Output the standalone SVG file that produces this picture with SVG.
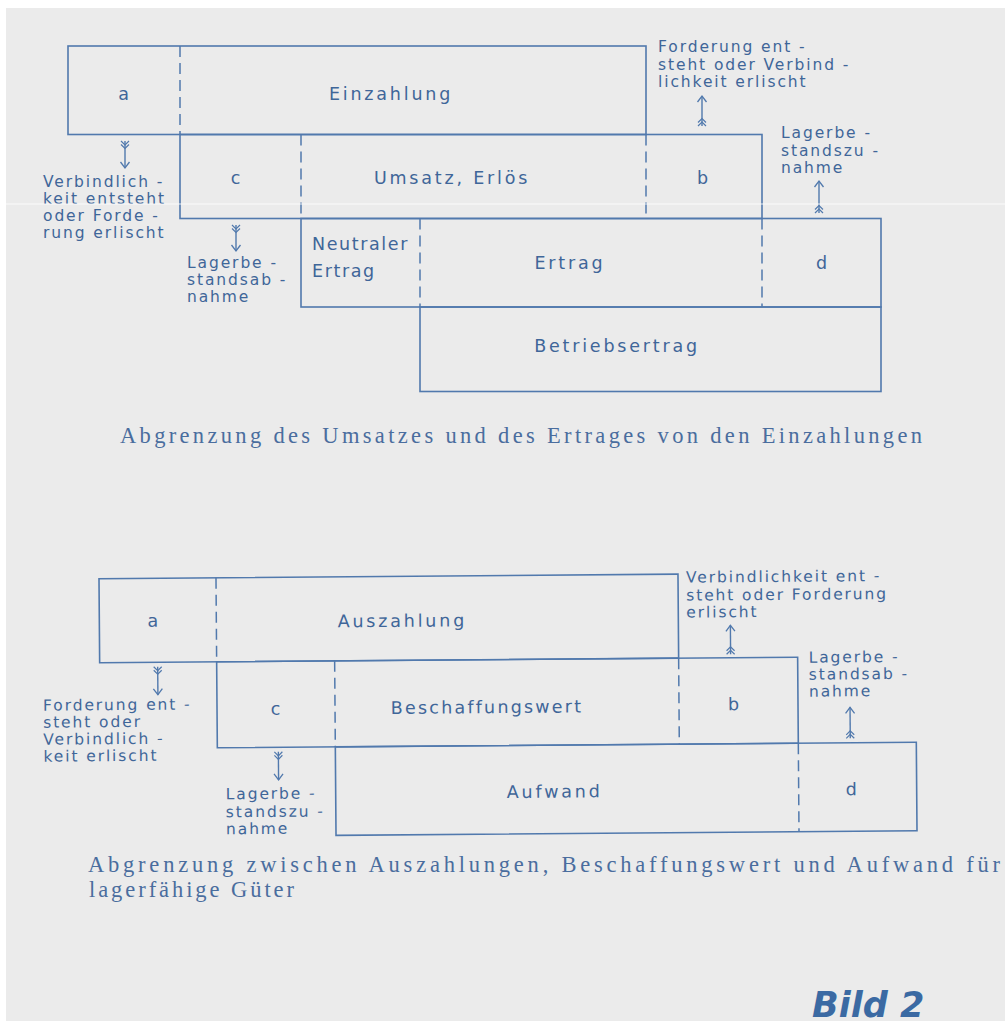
<svg xmlns="http://www.w3.org/2000/svg" width="1005" height="1027" viewBox="0 0 1005 1027">
  <defs>
    <style>
      .box { fill: none; stroke: #5179ad; stroke-width: 1.6; }
      .dash { fill: none; stroke: #5179ad; stroke-width: 1.5; stroke-dasharray: 11 6; }
      .lbl { font-family: "DejaVu Sans", "Liberation Sans", sans-serif; font-size: 17.5px; letter-spacing: 2.8px; fill: #3f6699; text-anchor: middle; }
      .ann { font-family: "DejaVu Sans", "Liberation Sans", sans-serif; font-size: 15.5px; letter-spacing: 1.9px; fill: #3f6699; }
      .cap { font-family: "Liberation Serif", "DejaVu Serif", serif; font-size: 22.5px; fill: #4a6d9e; }
      .arr { fill: none; stroke: #5179ad; stroke-width: 1.4; marker-start: url(#fletch); marker-end: url(#head); }
    </style>
    <marker id="head" markerUnits="userSpaceOnUse" viewBox="-8 -6 10 12" refX="0" refY="0" markerWidth="10" markerHeight="12" orient="auto">
      <path d="M-6,-4.5 L0,0 L-6,4.5" fill="none" stroke="#5179ad" stroke-width="1.3"/>
    </marker>
    <marker id="fletch" markerUnits="userSpaceOnUse" viewBox="-2 -6 12 12" refX="0" refY="0" markerWidth="12" markerHeight="12" orient="auto">
      <path d="M0,-4 L4,0 L0,4 M3.5,-4 L7.5,0 L3.5,4" fill="none" stroke="#5179ad" stroke-width="1.2"/>
    </marker>
  </defs>

  <rect x="0" y="0" width="1005" height="1027" fill="#ffffff"/>
  <rect x="6" y="8" width="999" height="1013" fill="#ebebeb"/>

  <!-- Upper diagram -->
  <g id="top-diagram">
    <g id="t-einzahlung">
      <rect class="box" x="68" y="46" width="578" height="88.5"/>
      <line class="dash" x1="180" y1="46" x2="180" y2="134.5"/>
      <text class="lbl" x="125" y="100">a</text>
      <text class="lbl" x="391" y="100">Einzahlung</text>
    </g>
    <g id="t-umsatz">
      <rect class="box" x="180" y="134.5" width="582" height="84"/>
      <line class="dash" x1="301" y1="134.5" x2="301" y2="218.5"/>
      <line class="dash" x1="646" y1="134.5" x2="646" y2="218.5"/>
      <text class="lbl" x="237" y="184">c</text>
      <text class="lbl" x="452" y="184">Umsatz, Erlös</text>
      <text class="lbl" x="704" y="184">b</text>
    </g>
    <g id="t-ertrag">
      <rect class="box" x="301" y="218.5" width="580" height="88.5"/>
      <line class="dash" x1="420" y1="218.5" x2="420" y2="307"/>
      <line class="dash" x1="762" y1="218.5" x2="762" y2="307"/>
      <text class="lbl" x="312" y="250" style="text-anchor:start;letter-spacing:1.6px">Neutraler</text>
      <text class="lbl" x="312" y="277" style="text-anchor:start;letter-spacing:1.6px">Ertrag</text>
      <text class="lbl" x="570" y="269">Ertrag</text>
      <text class="lbl" x="823" y="269">d</text>
    </g>
    <g id="t-betriebsertrag">
      <rect class="box" x="420" y="307" width="461" height="84.5"/>
      <text class="lbl" x="617" y="352">Betriebsertrag</text>
    </g>
    <g id="t-annotations">
      <text class="ann" x="43" y="187">Verbindlich -</text>
      <text class="ann" x="43" y="204">keit entsteht</text>
      <text class="ann" x="43" y="221">oder Forde -</text>
      <text class="ann" x="43" y="238">rung erlischt</text>
      <text class="ann" x="187" y="268">Lagerbe -</text>
      <text class="ann" x="187" y="285">standsab -</text>
      <text class="ann" x="187" y="302">nahme</text>
      <text class="ann" x="658" y="52">Forderung ent -</text>
      <text class="ann" x="658" y="70">steht oder Verbind -</text>
      <text class="ann" x="658" y="87">lichkeit erlischt</text>
      <text class="ann" x="781" y="138">Lagerbe -</text>
      <text class="ann" x="781" y="156">standszu -</text>
      <text class="ann" x="781" y="173">nahme</text>
    </g>
    <g id="t-connectors">
      <path class="arr" d="M125,141 L125,168"/>
      <path class="arr" d="M236,225 L236,251"/>
      <path class="arr" d="M702,126 L702,96"/>
      <path class="arr" d="M819,213 L819,181"/>
    </g>
  </g>
  <text class="cap" x="120" y="443" textLength="802" lengthAdjust="spacing">Abgrenzung des Umsatzes und des Ertrages von den Einzahlungen</text>

  <!-- Lower diagram -->
  <g id="bottom-diagram" transform="rotate(-0.45 508 705)">
    <g id="b-auszahlung">
      <rect class="box" x="100" y="575.5" width="579" height="84"/>
      <line class="dash" x1="217" y1="575.5" x2="217" y2="659.5"/>
      <text class="lbl" x="155" y="624">a</text>
      <text class="lbl" x="403" y="626">Auszahlung</text>
    </g>
    <g id="b-beschaffungswert">
      <rect class="box" x="217" y="659.5" width="581" height="86"/>
      <line class="dash" x1="335" y1="659.5" x2="335" y2="745.5"/>
      <line class="dash" x1="679" y1="659.5" x2="679" y2="745.5"/>
      <text class="lbl" x="277" y="713">c</text>
      <text class="lbl" x="487" y="713" style="letter-spacing:2.2px">Beschaffungswert</text>
      <text class="lbl" x="735" y="712">b</text>
    </g>
    <g id="b-aufwand">
      <rect class="box" x="335" y="745.5" width="581" height="88.5"/>
      <line class="dash" x1="798" y1="745.5" x2="798" y2="834"/>
      <text class="lbl" x="554" y="798">Aufwand</text>
      <text class="lbl" x="852" y="798">d</text>
    </g>
    <g id="b-annotations">
      <text class="ann" x="43" y="707">Forderung ent -</text>
      <text class="ann" x="43" y="724">steht oder</text>
      <text class="ann" x="43" y="741">Verbindlich -</text>
      <text class="ann" x="43" y="758">keit erlischt</text>
      <text class="ann" x="225" y="797">Lagerbe -</text>
      <text class="ann" x="225" y="815">standszu -</text>
      <text class="ann" x="225" y="832">nahme</text>
      <text class="ann" x="687" y="584">Verbindlichkeit ent -</text>
      <text class="ann" x="687" y="602">steht oder Forderung</text>
      <text class="ann" x="687" y="619">erlischt</text>
      <text class="ann" x="809" y="665">Lagerbe -</text>
      <text class="ann" x="809" y="682">standsab -</text>
      <text class="ann" x="809" y="699">nahme</text>
    </g>
    <g id="b-connectors">
      <path class="arr" d="M158,664 L158,692"/>
      <path class="arr" d="M278,750 L278,778"/>
      <path class="arr" d="M731,656 L731,627"/>
      <path class="arr" d="M850,741 L850,710"/>
    </g>
  </g>
  <text class="cap" x="88" y="872" textLength="912" lengthAdjust="spacing">Abgrenzung zwischen Auszahlungen, Beschaffungswert und Aufwand für</text>
  <text class="cap" x="89" y="897" textLength="205" lengthAdjust="spacing">lagerfähige Güter</text>

  <text x="812" y="1017" font-family="DejaVu Sans, Liberation Sans, sans-serif" font-size="35" font-weight="bold" font-style="italic" fill="#3b6aa3">Bild 2</text>

  <line x1="0" y1="204" x2="1005" y2="204" stroke="#ffffff" stroke-width="1" opacity="0.85"/>
</svg>
